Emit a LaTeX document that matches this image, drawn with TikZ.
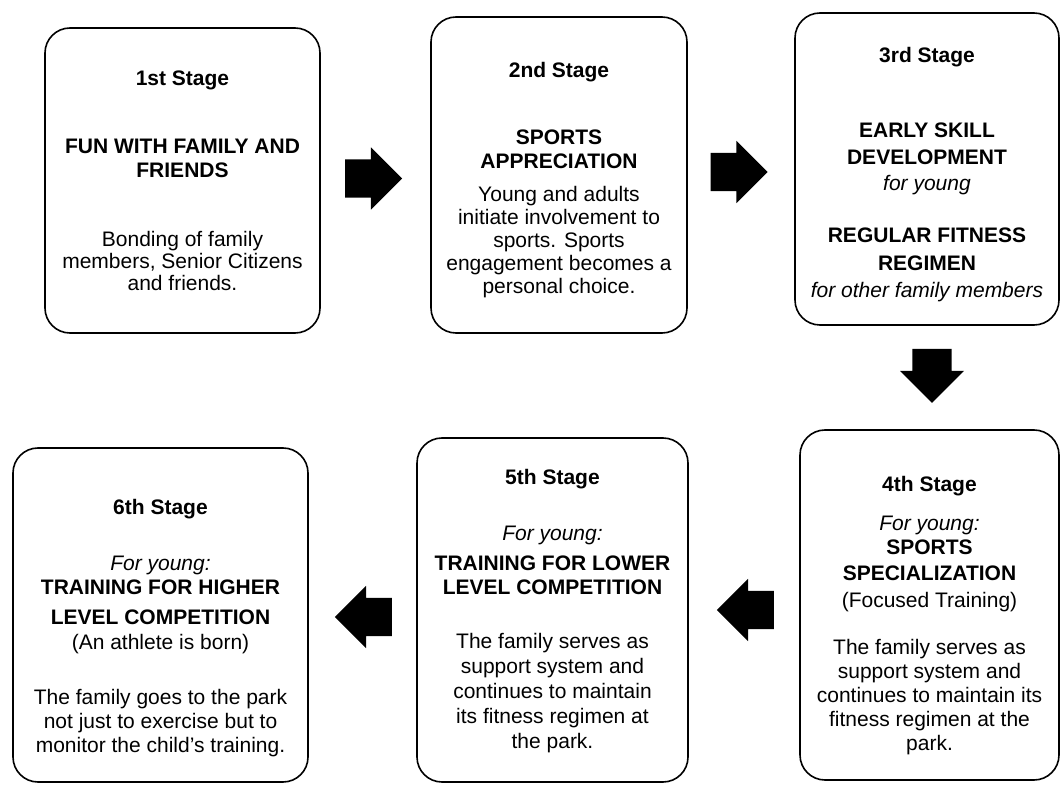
\documentclass[tikz,border=0pt]{standalone}
\usepackage{fontspec}
\setmainfont{Liberation Sans}
\usepackage{tikz}
\usetikzlibrary{shapes.arrows}
\tikzstyle{stage} = [rectangle, rounded corners=25pt, draw=black, line width=1.6pt, align=center, inner sep=0pt, font=\fontsize{21}{24}\selectfont]
\tikzstyle{blockarrow} = [single arrow, fill=black, draw=none, inner xsep=0pt, inner ysep=19pt, minimum height=57pt, minimum width=62pt, single arrow head extend=12pt]

\begin{document}
\begin{tikzpicture}[x=1pt, y=1pt, node distance=376pt]
\useasboundingbox (0,0) rectangle (1061,-786);

\node (s1) [stage, minimum width=275pt, minimum height=305pt] at (182.5,-180.5) {\textbf{1st Stage}\\[44pt] \textbf{FUN WITH FAMILY AND}\\ \textbf{FRIENDS}\\[45pt] Bonding of family\\[-2pt] members, Senior Citizens\\[-2pt] and friends.};
\node (s2) [stage, right of=s1, xshift=0.5pt, yshift=5.5pt, minimum width=256pt, minimum height=316pt] {\rule{0pt}{25pt}\textbf{2nd Stage}\\[43pt] \textbf{SPORTS}\\ \textbf{APPRECIATION}\\[9pt] Young and adults\\[-1pt] initiate involvement to\\[-1pt] sports. Sports\\[-1pt] engagement becomes a\\[-1pt] personal choice.};
\node (s3) [stage, right of=s2, xshift=-8pt, yshift=6pt, minimum width=264pt, minimum height=312pt] {\rule{0pt}{27pt}\textbf{3rd Stage}\\[51pt] \textbf{EARLY SKILL}\\[3pt] \textbf{DEVELOPMENT}\\[2pt] \textit{for young}\\[28pt] \textbf{REGULAR FITNESS}\\[4pt] \textbf{REGIMEN}\\[3pt] \textit{for other family members}};

\node (s4) [stage, below of=s3, xshift=2.5pt, yshift=-60pt, minimum width=259pt, minimum height=350pt] {\rule{0pt}{37pt}\textbf{4th Stage}\\[15pt] \textit{For young:}\\ \textbf{SPORTS}\\[2pt] \textbf{SPECIALIZATION}\\[3pt] (Focused Training)\\[23pt] The family serves as\\ support system and\\ continues to maintain its\\ fitness regimen at the\\ park.};
\node (s5) [stage, left of=s4, xshift=-1pt, yshift=-5pt, minimum width=271pt, minimum height=344pt] {\rule{0pt}{18pt}\textbf{5th Stage}\\[32pt] \textit{For young:}\\[6pt] \textbf{TRAINING FOR LOWER}\\ \textbf{LEVEL COMPETITION}\\[30pt] The family serves as\\[1pt] support system and\\[1pt] continues to maintain\\[1pt] its fitness regimen at\\[1pt] the park.};
\node (s6) [stage, left of=s5, xshift=-16pt, yshift=-5pt, minimum width=295pt, minimum height=334pt] {\rule{0pt}{41pt}\textbf{6th Stage}\\[32pt] \textit{For young:}\\ \textbf{TRAINING FOR HIGHER}\\[6pt] \textbf{LEVEL COMPETITION}\\[1pt] (An athlete is born)\\[31pt] The family goes to the park\\ not just to exercise but to\\ monitor the child's training.};

% arrows between the stages
\node (a12) [blockarrow, right of=s1, node distance=181.5pt, yshift=2pt] {};
\node (a23) [blockarrow, right of=s2, node distance=170.5pt, yshift=3pt] {};
\node (a34) [blockarrow, below of=s3, node distance=197pt, xshift=5pt, rotate=-90, minimum height=54pt, minimum width=64pt] {};
\node (a45) [blockarrow, left of=s4, node distance=174.5pt, yshift=-5pt, rotate=180] {};
\node (a56) [blockarrow, left of=s5, node distance=179.5pt, yshift=-7pt, rotate=180] {};

\end{tikzpicture}
\end{document}
